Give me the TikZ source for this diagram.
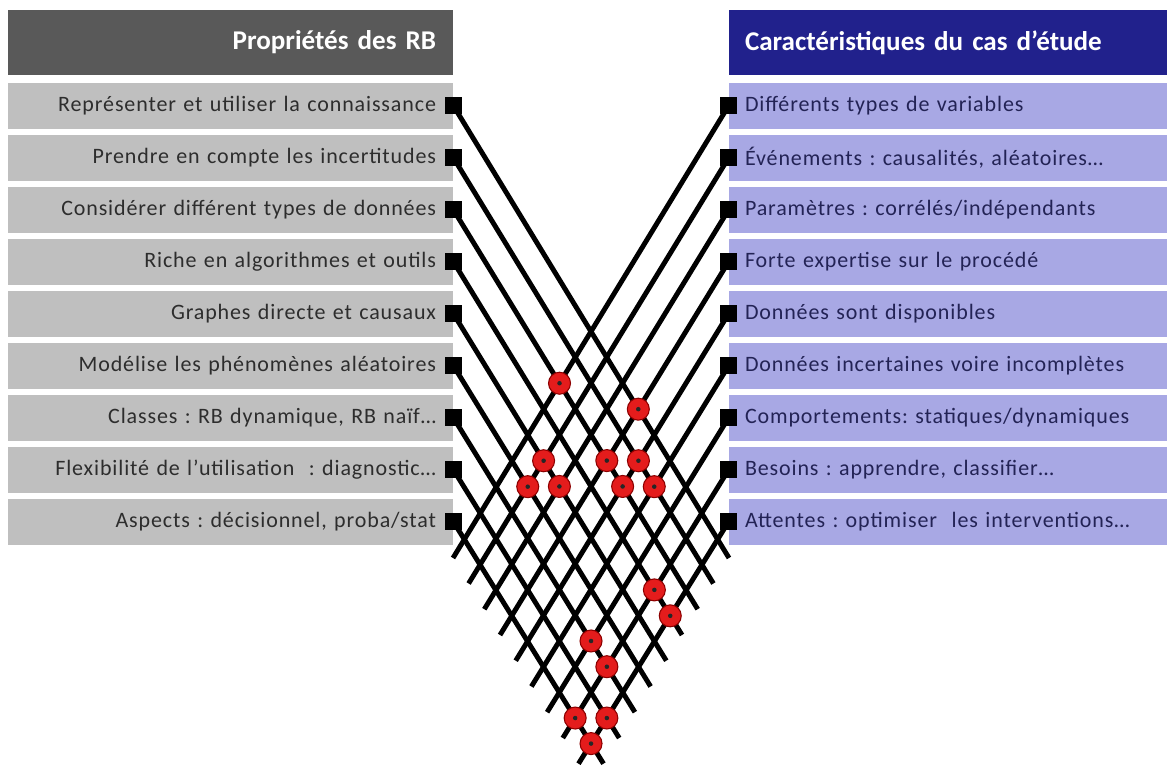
\documentclass[tikz,border=0pt]{standalone}
\usepackage{fontspec}
\setmainfont{Carlito}
\newfontfamily\rowfont[LetterSpace=4]{Carlito}
\usetikzlibrary{positioning}
\definecolor{rbhead}{RGB}{89,89,89}
\definecolor{rbrow}{RGB}{191,191,191}
\definecolor{cshead}{RGB}{33,33,140}
\definecolor{csrow}{RGB}{168,168,228}
\definecolor{rbtext}{RGB}{45,45,45}
\definecolor{cstext}{RGB}{35,35,85}
\definecolor{hitred}{RGB}{228,28,28}
\frenchspacing

\begin{document}
\begin{tikzpicture}[x=0.75pt,y=-0.75pt,
  node distance=4.1pt,
  lhead/.style={fill=rbhead,minimum height=48.75pt,text width=308.25pt,inner xsep=12.75pt,
                align=right,font=\fontsize{20.3}{23}\selectfont\bfseries,text=white},
  rhead/.style={fill=cshead,minimum height=48.75pt,text width=304.5pt,inner xsep=12pt,
                align=left,font=\fontsize{20.3}{23}\selectfont\bfseries,text=white},
  lrow/.style={fill=rbrow,minimum height=34.5pt,text width=308.25pt,inner xsep=12.75pt,
               align=right,font=\rowfont\fontsize{16.5}{19}\selectfont,text=rbtext},
  rrow/.style={fill=csrow,minimum height=34.5pt,text width=304.5pt,inner xsep=12pt,
               align=left,font=\rowfont\fontsize{16.5}{19}\selectfont,text=cstext},
  sq/.style={fill=black,minimum size=12.5pt,inner sep=0pt},
  ln/.style={line width=3.7pt,black},
  hit/.style={circle,fill=hitred,draw=red!55!black,line width=0.8pt,minimum size=16.5pt,inner sep=0pt,
              path picture={\fill[black!85] (path picture bounding box.center) circle (1.7pt);}}
]
\useasboundingbox (0,0) rectangle (1167,766);

\node[lhead] (lh) at (230.5,42.5) {Propriétés des RB};
\node[lrow,below=5.25pt of lh] (l1) {Représenter et utiliser la connaissance};
\node[lrow,below=of l1] (l2) {Prendre en compte les incertitudes};
\node[lrow,below=of l2] (l3) {Considérer différent types de données};
\node[lrow,below=of l3] (l4) {Riche en algorithmes et outils};
\node[lrow,below=of l4] (l5) {Graphes directe et causaux};
\node[lrow,below=of l5] (l6) {Modélise les phénomènes aléatoires};
\node[lrow,below=of l6] (l7) {Classes : RB dynamique, RB naïf…};
\node[lrow,below=of l7] (l8) {Flexibilité de l’utilisation \ : diagnostic…};
\node[lrow,below=of l8] (l9) {Aspects : décisionnel, proba/stat};

\node[rhead] (rh) at (948,42.5) {Caractéristiques du cas d’étude};
\node[rrow,below=5.25pt of rh] (r1) {Différents types de variables};
\node[rrow,below=of r1] (r2) {Événements : causalités, aléatoires…};
\node[rrow,below=of r2] (r3) {Paramètres : corrélés/indépendants};
\node[rrow,below=of r3] (r4) {Forte expertise sur le procédé};
\node[rrow,below=of r4] (r5) {Données sont disponibles};
\node[rrow,below=of r5] (r6) {Données incertaines voire incomplètes};
\node[rrow,below=of r6] (r7) {Comportements: statiques/dynamiques};
\node[rrow,below=of r7] (r8) {Besoins : apprendre, classifier…};
\node[rrow,below=of r8] (r9) {Attentes : optimiser \ les interventions…};

\node[sq] (a1) at (l1.east) {}; \node[sq] (a2) at (l2.east) {}; \node[sq] (a3) at (l3.east) {};
\node[sq] (a4) at (l4.east) {}; \node[sq] (a5) at (l5.east) {}; \node[sq] (a6) at (l6.east) {};
\node[sq] (a7) at (l7.east) {}; \node[sq] (a8) at (l8.east) {}; \node[sq] (a9) at (l9.east) {};
\node[sq] (b1) at (r1.west) {}; \node[sq] (b2) at (r2.west) {}; \node[sq] (b3) at (r3.west) {};
\node[sq] (b4) at (r4.west) {}; \node[sq] (b5) at (r5.west) {}; \node[sq] (b6) at (r6.west) {};
\node[sq] (b7) at (r7.west) {}; \node[sq] (b8) at (r8.west) {}; \node[sq] (b9) at (r9.west) {};

\coordinate (ea1) at (729,558); \coordinate (ea2) at (713.4,583.5); \coordinate (ea3) at (697.7,609.2);
\coordinate (ea4) at (682,635); \coordinate (ea5) at (666.3,660.7); \coordinate (ea6) at (650.6,686.5);
\coordinate (ea7) at (634.9,712.2); \coordinate (ea8) at (619.2,738); \coordinate (ea9) at (603.5,763.7);
\coordinate (eb1) at (453,558); \coordinate (eb2) at (468.6,583.5); \coordinate (eb3) at (484.3,609.2);
\coordinate (eb4) at (500,635); \coordinate (eb5) at (515.7,660.7); \coordinate (eb6) at (531.4,686.5);
\coordinate (eb7) at (547.1,712.2); \coordinate (eb8) at (562.8,738); \coordinate (eb9) at (578.5,763.7);

\draw[ln] (a1.center)--(ea1); \draw[ln] (a2.center)--(ea2); \draw[ln] (a3.center)--(ea3);
\draw[ln] (a4.center)--(ea4); \draw[ln] (a5.center)--(ea5); \draw[ln] (a6.center)--(ea6);
\draw[ln] (a7.center)--(ea7); \draw[ln] (a8.center)--(ea8); \draw[ln] (a9.center)--(ea9);
\draw[ln] (b1.center)--(eb1); \draw[ln] (b2.center)--(eb2); \draw[ln] (b3.center)--(eb3);
\draw[ln] (b4.center)--(eb4); \draw[ln] (b5.center)--(eb5); \draw[ln] (b6.center)--(eb6);
\draw[ln] (b7.center)--(eb7); \draw[ln] (b8.center)--(eb8); \draw[ln] (b9.center)--(eb9);

\node[hit] (h31) at (intersection of a3.center--ea3 and b1.center--eb1) {};
\node[hit] (h14) at (intersection of a1.center--ea1 and b4.center--eb4) {};
\node[hit] (h52) at (intersection of a5.center--ea5 and b2.center--eb2) {};
\node[hit] (h34) at (intersection of a3.center--ea3 and b4.center--eb4) {};
\node[hit] (h25) at (intersection of a2.center--ea2 and b5.center--eb5) {};
\node[hit] (h62) at (intersection of a6.center--ea6 and b2.center--eb2) {};
\node[hit] (h53) at (intersection of a5.center--ea5 and b3.center--eb3) {};
\node[hit] (h35) at (intersection of a3.center--ea3 and b5.center--eb5) {};
\node[hit] (h26) at (intersection of a2.center--ea2 and b6.center--eb6) {};
\node[hit] (h48) at (intersection of a4.center--ea4 and b8.center--eb8) {};
\node[hit] (h49) at (intersection of a4.center--ea4 and b9.center--eb9) {};
\node[hit] (h77) at (intersection of a7.center--ea7 and b7.center--eb7) {};
\node[hit] (h78) at (intersection of a7.center--ea7 and b8.center--eb8) {};
\node[hit] (h98) at (intersection of a9.center--ea9 and b8.center--eb8) {};
\node[hit] (h89) at (intersection of a8.center--ea8 and b9.center--eb9) {};
\node[hit] (h99) at (intersection of a9.center--ea9 and b9.center--eb9) {};
\end{tikzpicture}
\end{document}
